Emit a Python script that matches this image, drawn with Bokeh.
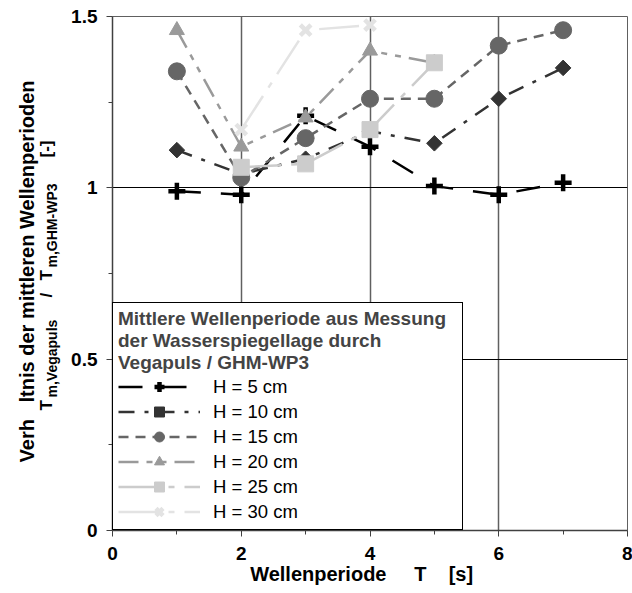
import numpy as np
from bokeh.plotting import figure
from bokeh.layouts import row
from bokeh.models import FixedTicker, Label, Legend, LegendItem, Range1d, CustomJSTickFormatter
from bokeh.embed import file_html
from bokeh.resources import INLINE

# ---- data ----
x_ticks = [0, 2, 4, 6, 8]
x_minor = [1, 3, 5, 7]
y_ticks = [0, 0.5, 1, 1.5]
y_minor = [0.25, 0.75, 1.25]

periods_h5 = [1, 2, 3, 4, 5, 6, 7]
ratio_h5 = [0.99, 0.98, 1.21, 1.12, 1.005, 0.98, 1.015]
periods_h10 = [1, 2, 3, 4, 5, 6, 7]
ratio_h10 = [1.11, 1.04, 1.085, 1.165, 1.13, 1.26, 1.35]
periods_h15 = [1, 2, 3, 4, 5, 6, 7]
ratio_h15 = [1.34, 1.03, 1.145, 1.26, 1.26, 1.415, 1.46]
periods_h20 = [1, 2, 3, 4, 5]
ratio_h20 = [1.46, 1.12, 1.205, 1.40, 1.365]
periods_h25 = [2, 3, 4, 5]
ratio_h25 = [1.06, 1.07, 1.17, 1.365]
periods_h30 = [2, 3, 4]
ratio_h30 = [1.17, 1.46, 1.475]

labels = ["H = 5 cm", "H = 10 cm", "H = 15 cm", "H = 20 cm", "H = 25 cm", "H = 30 cm"]

FONT = "Liberation Sans"
NB = "\u00a0"
legend_title = ("Mittlere Wellenperiode aus Messung" + NB * 2 +
                "\nder Wasserspiegellage durch\nVegapuls / GHM-WP3")
W, H = 632, 593
YW = 66           # width of the strip holding the y-axis title
TOP, BOTTOM = 16, 63

# ---------------- main plot ----------------
p = figure(width=W - YW, height=H, output_backend="svg", toolbar_location=None,
           x_range=Range1d(0, 8), y_range=Range1d(0, 1.5),
           min_border_left=46, min_border_right=5, min_border_top=TOP, min_border_bottom=BOTTOM)
p.background_fill_color = "white"
p.border_fill_color = "white"
p.outline_line_color = "#606060"
p.outline_line_width = 1

for ax in (p.xaxis, p.yaxis):
    ax.axis_line_color = "#404040"
    ax.axis_line_width = 1.5
    ax.major_tick_line_color = "#404040"
    ax.minor_tick_line_color = "#404040"
    ax.major_tick_out = 6
    ax.major_tick_in = 0
    ax.minor_tick_out = 4
    ax.minor_tick_in = 0
    ax.major_label_text_font = FONT
    ax.major_label_text_font_style = "bold"
    ax.major_label_text_font_size = "19px"
    ax.major_label_text_color = "black"
    ax.formatter = CustomJSTickFormatter(code="return tick.toString();")

p.xaxis.ticker = FixedTicker(ticks=x_ticks, minor_ticks=x_minor)
p.yaxis.ticker = FixedTicker(ticks=y_ticks, minor_ticks=y_minor)
p.xaxis.major_label_standoff = 10
p.yaxis.major_label_standoff = 9

p.xaxis.axis_label = "Wellenperiode" + NB * 5 + "T" + NB * 4 + "[s]" + NB * 3
p.xaxis.axis_label_text_font = FONT
p.xaxis.axis_label_text_font_style = "bold"
p.xaxis.axis_label_text_font_size = "20px"
p.xaxis.axis_label_text_color = "black"
p.xaxis.axis_label_standoff = 0

p.xgrid.grid_line_color = "#606060"
p.xgrid.grid_line_width = 1.5
p.ygrid.grid_line_color = "black"
p.ygrid.grid_line_width = 1

series = [
    (periods_h5, ratio_h5, "#000000", "24 20", "cross", 17, 0.0),
    (periods_h10, ratio_h10, "#333333", "16 10 4 10", "square", 11, np.pi / 4),
    (periods_h15, ratio_h15, "#666666", "10 7", "circle", 17, 0.0),
    (periods_h20, ratio_h20, "#9a9a9a", "20 8 6 8 6 8", "triangle", 15, 0.0),
    (periods_h25, ratio_h25, "#cccccc", "40 10 6 10", "square", 16, 0.0),
    (periods_h30, ratio_h30, "#e3e3e3", "40 10 6 10", "x", 15, 0.0),
]

items = []
for (xs, ys, col, dash, marker, size, ang), lab_text in zip(series, labels):
    r1 = p.line(xs, ys, line_color=col, line_width=2.5, line_dash=dash)
    if marker in ("cross", "x"):
        r2 = p.scatter(xs, ys, marker=marker, size=size, line_color=col, line_width=4.5)
    else:
        r2 = p.scatter(xs, ys, marker=marker, size=size, angle=ang, fill_color=col,
                       line_color=col, line_width=1)
    items.append(LegendItem(label=lab_text, renderers=[r1, r2]))

legend = Legend(items=items, location="bottom_left", margin=0, padding=5, spacing=0,
                label_height=25, glyph_height=25, glyph_width=82, label_standoff=13,
                title=legend_title,
                title_text_font=FONT, title_text_font_style="bold", title_text_font_size="19px",
                title_text_line_height=1.1, title_standoff=0,
                label_text_font=FONT, label_text_font_size="18.5px", label_text_color="black",
                border_line_color="black", border_line_width=1, border_line_alpha=1,
                background_fill_color="white", background_fill_alpha=1)
p.add_layout(legend)

# ---------------- y-axis title strip ----------------
yf = figure(width=YW, height=H, output_backend="svg", toolbar_location=None,
            x_axis_location=None, y_axis_location=None,
            min_border_left=0, min_border_right=0, min_border_top=TOP, min_border_bottom=BOTTOM,
            x_range=Range1d(0, 1), y_range=Range1d(0, 1))
yf.outline_line_color = None
yf.background_fill_color = "white"
yf.border_fill_color = "white"
yf.xgrid.visible = False
yf.ygrid.visible = False

FRAME_BOTTOM = H - BOTTOM


def ylab(text, px, py, size, align="left"):
    # px, py: pixel position in the strip (from its top-left); text reads bottom-to-top
    yf.add_layout(Label(x=px, y=FRAME_BOTTOM - py, x_units="screen", y_units="screen", text=text,
                        angle=np.pi / 2, text_align=align, text_baseline="alphabetic",
                        text_font=FONT, text_font_style="bold",
                        text_font_size=size, text_color="black"))


ylab("Verh" + NB * 3 + "ltnis der mittleren Wellenperioden", 26, 271, "20px", align="center")
ylab("T", 46, 410, "17px")
ylab("m,Vegapuls", 51, 397, "14px")
ylab("/", 46, 297, "17px")
ylab("T", 46, 280, "17px")
ylab("m,GHM-WP3", 51, 267, "14px")
ylab("[-]", 46, 157, "17px")

layout = row(yf, p, spacing=0)
open("out.html", "w").write(file_html(layout, INLINE))
